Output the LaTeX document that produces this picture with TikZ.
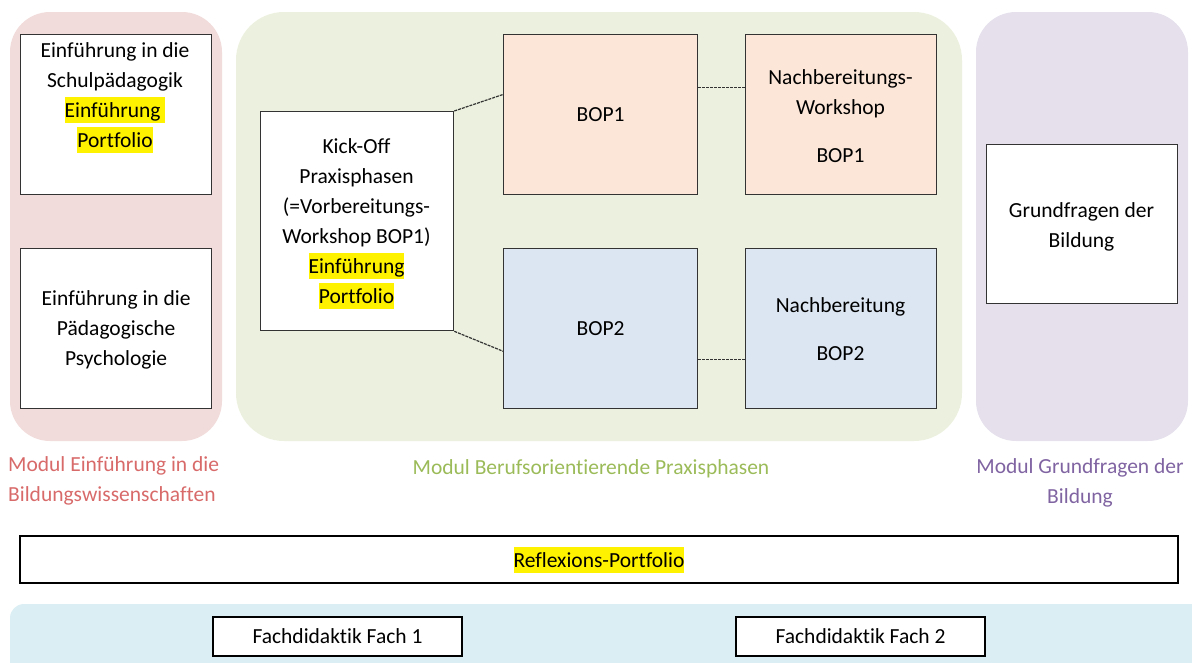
\documentclass[tikz,border=0pt]{standalone}
\usepackage{fontspec}
\setmainfont{Carlito}[Ligatures=NoCommon]
\usetikzlibrary{calc}
\definecolor{pinkbg}{HTML}{F2DCDB}
\definecolor{greenbg}{HTML}{EBF1DE}
\definecolor{purplebg}{HTML}{E5E0EC}
\definecolor{bluebg}{HTML}{DAEEF3}
\definecolor{peach}{HTML}{FCE6D8}
\definecolor{bopblue}{HTML}{DCE6F2}
\definecolor{pinktxt}{HTML}{D86A6A}
\definecolor{greentxt}{HTML}{9BBB59}
\definecolor{purpletxt}{HTML}{8064A2}
\definecolor{edge}{HTML}{333333}
\newcommand{\hlt}[1]{{\setlength{\fboxsep}{0pt}\colorbox{yellow}{\rule[-5.5pt]{0pt}{26pt}#1}}}
\tikzset{
  x=1pt, y=-1pt,
  every node/.style={font=\fontsize{21.5}{30}\selectfont, inner sep=0pt},
  panel/.style={rounded corners=40pt, draw=none},
  boxw/.style={draw=edge, line width=1.3pt, fill=white, anchor=north west},
  txt/.style={align=center},
  conn/.style={draw=edge, line width=1.2pt, dash pattern=on 3pt off 1pt},
  flat/.style={draw=black, line width=2pt, fill=white, anchor=north west}
}
\begin{document}
\begin{tikzpicture}
\useasboundingbox (0,0) rectangle (1192,662);
% panels
\fill[pinkbg, panel] (10,12) rectangle (222,441);
\fill[greenbg, panel, rounded corners=48pt] (236,12) rectangle (962,441);
\fill[purplebg, panel] (976,12) rectangle (1188,441);
\fill[bluebg, rounded corners=14pt] (10,604) rectangle (1230,720);
% left module
\node[boxw, minimum width=191pt, minimum height=160pt] (schul) at (20,34) {};
\node[txt] (schult) at (115,98) {Einführung in die\\Schulpädagogik\\\hlt{Einführung }\\\hlt{Portfolio}};
\node[boxw, minimum width=191pt, minimum height=160pt] (psych) at (20,248) {};
\node[txt] (psycht) at ($(psych.center)+(0,1)$) {Einführung in die\\Pädagogische\\Psychologie};
% middle module
\node[boxw, minimum width=193pt, minimum height=219pt] (kick) at (260,111) {};
\node[txt] (kickt) at (356.5,224) {Kick-Off\\Praxisphasen\\(=Vorbereitungs-\\Workshop BOP1)\\\hlt{Einführung}\\\hlt{Portfolio}};
\node[boxw, fill=peach, minimum width=194pt, minimum height=160pt] (bop1) at (503,34) {};
\node[txt] (bop1t) at (bop1.center) {BOP1};
\node[boxw, fill=peach, minimum width=191pt, minimum height=160pt] (nach1) at (745,34) {};
\node[txt] (nach1t) at (840.5,116) {Nachbereitungs-\\Workshop\\[18pt]BOP1};
\node[boxw, fill=bopblue, minimum width=194pt, minimum height=160pt] (bop2) at (503,248) {};
\node[txt] (bop2t) at (bop2.center) {BOP2};
\node[boxw, fill=bopblue, minimum width=191pt, minimum height=160pt] (nach2) at (745,248) {};
\node[txt] (nach2t) at (840.5,329) {Nachbereitung\\[18pt]BOP2};
% right module
\node[boxw, minimum width=191pt, minimum height=159pt] (grund) at (986,144) {};
\node[txt] (grundt) at (1081.5,227) {Grundfragen der\\Bildung};
% connectors
\draw[conn] (kick.north east) -- ($(bop1.north west)!0.375!(bop1.south west)$);
\draw[conn] (kick.south east) -- ($(bop2.north west)!0.64!(bop2.south west)$);
\draw[conn] ($(bop1.north east)!0.33!(bop1.south east)$) -- ($(nach1.north west)!0.33!(nach1.south west)$);
\draw[conn] ($(bop2.north east)!0.69!(bop2.south east)$) -- ($(nach2.north west)!0.69!(nach2.south west)$);
% module labels
\node[align=left, anchor=west, text=pinktxt] (lab1) at (8,481) {Modul Einführung in die\\Bildungswissenschaften};
\node[text=greentxt] (lab2) at (591,469) {Modul Berufsorientierende Praxisphasen};
\node[align=center, text=purpletxt] (lab3) at (1080,483) {Modul Grundfragen der\\Bildung};
% bottom
\node[flat, minimum width=1158pt, minimum height=47pt] (refl) at (19,535) {};
\node (reflt) at (refl.center) {\hlt{Reflexions-Portfolio}};
\node[flat, minimum width=249pt, minimum height=39pt] (fach1) at (212,616) {};
\node (fach1t) at (fach1.center) {Fachdidaktik Fach 1};
\node[flat, minimum width=249pt, minimum height=39pt] (fach2) at (735,616) {};
\node (fach2t) at (fach2.center) {Fachdidaktik Fach 2};
\end{tikzpicture}
\end{document}
